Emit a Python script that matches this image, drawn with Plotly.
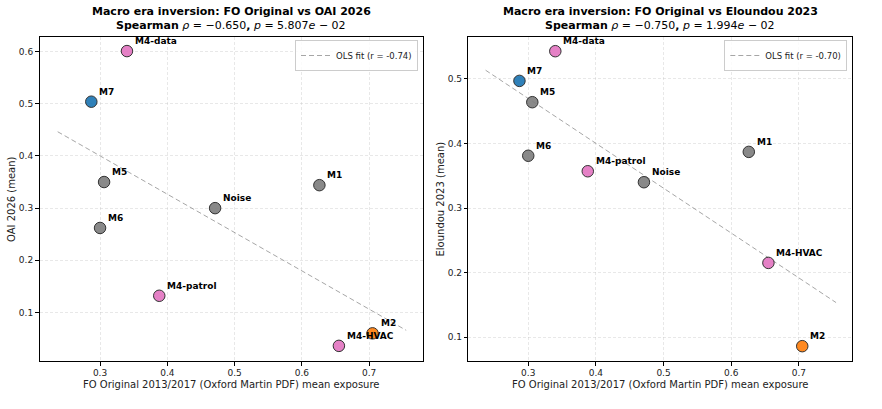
import numpy as np
import plotly.graph_objects as go

# ---------------- data ----------------
labels = ["M1", "M2", "M4-data", "M4-patrol", "M4-HVAC", "M5", "M6", "M7", "Noise"]
fo_original = [0.626, 0.705, 0.340, 0.388, 0.655, 0.306, 0.300, 0.287, 0.471]
oai_2026 = [0.344, 0.060, 0.601, 0.132, 0.036, 0.350, 0.262, 0.504, 0.300]
eloundou_2023 = [0.387, 0.086, 0.543, 0.357, 0.215, 0.464, 0.381, 0.497, 0.340]
point_colors = ["#7f7f7f", "#ff7f0e", "#e377c2", "#e377c2", "#e377c2",
                "#7f7f7f", "#7f7f7f", "#1f77b4", "#7f7f7f"]

title_left_1 = "Macro era inversion: FO Original vs OAI 2026"
title_left_2 = "Spearman <i>ρ</i> = −0.650, <i>p</i> = 5.807<i>e</i> − 02"
title_right_1 = "Macro era inversion: FO Original vs Eloundou 2023"
title_right_2 = "Spearman <i>ρ</i> = −0.750, <i>p</i> = 1.994<i>e</i> − 02"
legend_left = "OLS fit (r = -0.74)"
legend_right = "OLS fit (r = -0.70)"
xlabel = "FO Original 2013/2017 (Oxford Martin PDF) mean exposure"
ylabel_left = "OAI 2026 (mean)"
ylabel_right = "Eloundou 2023 (mean)"

x_ticks = [0.3, 0.4, 0.5, 0.6, 0.7]
y_ticks_left = [0.1, 0.2, 0.3, 0.4, 0.5, 0.6]
y_ticks_right = [0.1, 0.2, 0.3, 0.4, 0.5]

FONT = "DejaVu Sans"
W, H = 882, 409

fig = go.Figure()

def add_panel(xs, ys, xa, ya, legend_name, legend_text):
    xs_a = np.array(xs)
    ys_a = np.array(ys)
    slope, intercept = np.polyfit(xs_a, ys_a, 1)
    lx = np.array([xs_a.min() - 0.05, xs_a.max() + 0.05])
    ly = slope * lx + intercept
    fig.add_trace(go.Scatter(
        x=lx, y=ly, mode="lines", xaxis=xa, yaxis=ya,
        line=dict(color="rgba(128,128,128,0.7)", width=1, dash="5px,3px"),
        name=legend_text, showlegend=True, legend=legend_name, hoverinfo="skip"))
    fig.add_trace(go.Scatter(
        x=xs, y=ys, mode="markers", xaxis=xa, yaxis=ya, showlegend=False,
        marker=dict(size=11.5, color=point_colors, opacity=0.92,
                    line=dict(color="#222222", width=1))))
    for lab, x, y in zip(labels, xs, ys):
        fig.add_annotation(x=x, y=y, xref=xa, yref=ya.replace("axis", ""),
                           text="<b>%s</b>" % lab, showarrow=False,
                           xanchor="left", yanchor="middle", xshift=6, yshift=10,
                           font=dict(family=FONT, size=9, color="#000000"))

add_panel(fo_original, oai_2026, "x", "y", "legend", legend_left)
add_panel(fo_original, eloundou_2023, "x2", "y2", "legend2", legend_right)

# pixel-derived domains
L1, R1 = 39.5, 423
L2, R2 = 468.3, 852.3
TOP, BOT = 37, 361
xd1 = [L1 / W, R1 / W]
xd2 = [L2 / W, R2 / W]
yd = [1 - BOT / H, 1 - TOP / H]

axis_common = dict(
    showline=True, linecolor="#000000", linewidth=1, mirror=True,
    ticks="outside", ticklen=3.5, tickwidth=0.8, tickcolor="#000000",
    tickfont=dict(family=FONT, size=9, color="#222222"),
    showgrid=True, gridcolor="rgba(190,190,190,0.35)", griddash="3px,2px", gridwidth=0.8,
    zeroline=False, tickformat=".1f",
)

fig.update_layout(
    width=W, height=H,
    margin=dict(l=0, r=0, t=0, b=0),
    paper_bgcolor="white", plot_bgcolor="white",
    font=dict(family=FONT),
    xaxis=dict(domain=xd1, range=[0.21, 0.78], tickvals=x_ticks, anchor="y", **axis_common),
    yaxis=dict(domain=yd, range=[0.007, 0.628], tickvals=y_ticks_left, anchor="x", **axis_common),
    xaxis2=dict(domain=xd2, range=[0.2114, 0.779], tickvals=x_ticks, anchor="y2", **axis_common),
    yaxis2=dict(domain=yd, range=[0.063, 0.565], tickvals=y_ticks_right, anchor="x2", **axis_common),
    legend=dict(x=(R1 - 5) / W, y=1 - 40 / H, xanchor="right", yanchor="top",
                bgcolor="rgba(255,255,255,0.8)", bordercolor="#cccccc", borderwidth=1,
                font=dict(family=FONT, size=8.5, color="#222222"), itemwidth=30,
                tracegroupgap=0),
    legend2=dict(x=(R2 - 5) / W, y=1 - 40 / H, xanchor="right", yanchor="top",
                 bgcolor="rgba(255,255,255,0.8)", bordercolor="#cccccc", borderwidth=1,
                 font=dict(family=FONT, size=8.5, color="#222222"), itemwidth=30,
                 tracegroupgap=0),
    showlegend=True,
)

def paper_ann(text, xp, yp, size, bold=False, angle=0, color="#000000"):
    fig.add_annotation(x=xp / W, y=1 - yp / H, xref="paper", yref="paper",
                       text=("<b>%s</b>" % text) if bold else text, showarrow=False,
                       xanchor="center", yanchor="middle", textangle=angle,
                       font=dict(family=FONT, size=size, color=color))

cx1 = (L1 + R1) / 2
cx2 = (L2 + R2) / 2
paper_ann(title_left_1, cx1, 11.5, 11, bold=True)
paper_ann(title_left_2.replace("Spearman", "<b>Spearman</b>").replace(",", "<b>,</b>"), cx1, 26, 11)
paper_ann(title_right_1, cx2, 11.5, 11, bold=True)
paper_ann(title_right_2.replace("Spearman", "<b>Spearman</b>").replace(",", "<b>,</b>"), cx2, 26, 11)
paper_ann(xlabel, cx1, 384, 10, color="#222222")
paper_ann(xlabel, cx2, 384, 10, color="#222222")
paper_ann(ylabel_left, 11, (TOP + BOT) / 2, 10, angle=-90, color="#222222")
paper_ann(ylabel_right, 439.5, (TOP + BOT) / 2, 10, angle=-90, color="#222222")

fig.write_html("out.html")
